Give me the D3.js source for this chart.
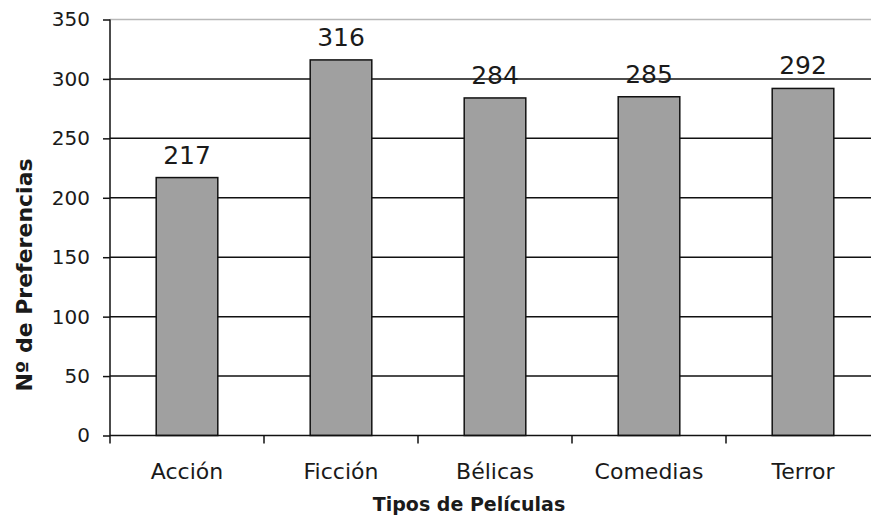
<!DOCTYPE html>
<html>
<head>
<meta charset="utf-8">
<script src="https://cdn.jsdelivr.net/npm/d3@7"></script>
<style>
  body { margin: 0; background: #fff; }
  text { font-family: "DejaVu Sans", Verdana, sans-serif; fill: #1a1a1a; }
</style>
</head>
<body>
<figure id="bar" style="margin:0"></figure>
<script>
const categories = ["Acción", "Ficción", "Bélicas", "Comedias", "Terror"];
const values = [217, 316, 284, 285, 292];
const yTicks = [0, 50, 100, 150, 200, 250, 300, 350];

const width = 871, height = 520;
const margin = { top: 19.5, left: 110 };
const plotW = 770;           // plot runs past the right edge, as in the original
const plotH = 416;

const svg = d3.select("figure#bar")
  .append("svg")
  .attr("width", width)
  .attr("height", height);

const g = svg.append("g")
  .attr("transform", "translate(" + margin.left + "," + margin.top + ")");

// scales
const x = d3.scaleBand()
  .domain(categories)
  .range([0, plotW])
  .paddingInner(0.6)
  .paddingOuter(0.3);

const y = d3.scaleLinear()
  .domain([0, 350])
  .range([plotH, 0]);

// gridlines
g.selectAll(".grid")
  .data(yTicks.filter(t => t > 0))
  .enter()
  .append("line")
  .attr("x1", 0)
  .attr("x2", plotW)
  .attr("y1", d => y(d))
  .attr("y2", d => y(d))
  .attr("stroke", d => d === 350 ? "#b8b8b8" : "#111")
  .attr("stroke-width", 1.5);

// bars
g.selectAll(".bar")
  .data(values)
  .enter()
  .append("rect")
  .attr("x", (d, i) => x(categories[i]))
  .attr("y", d => y(d))
  .attr("width", x.bandwidth())
  .attr("height", d => plotH - y(d))
  .attr("fill", "#a0a0a0")
  .attr("stroke", "#111")
  .attr("stroke-width", 1.5);

// value labels
g.selectAll(".val")
  .data(values)
  .enter()
  .append("text")
  .attr("x", (d, i) => x(categories[i]) + x.bandwidth() / 2)
  .attr("y", d => y(d) - 14)
  .attr("text-anchor", "middle")
  .style("font-size", "25px")
  .text(d => d);

// y axis
const yAxis = g.append("g")
  .call(d3.axisLeft(y).tickValues(yTicks).tickSize(7).tickPadding(13));
yAxis.select(".domain").attr("stroke", "#111").attr("stroke-width", 1.5)
  .attr("d", "M0,0V" + (plotH + 8));
yAxis.selectAll(".tick line").attr("stroke", "#111").attr("stroke-width", 1.5);
yAxis.selectAll(".tick text").style("font-size", "20px").attr("fill", "#1a1a1a");

// x axis: ticks sit between categories
const xAxisG = g.append("g")
  .attr("transform", "translate(0," + plotH + ")");
xAxisG.append("line")
  .attr("x1", 0).attr("x2", plotW)
  .attr("stroke", "#111").attr("stroke-width", 1.5);
const step = x.step();
xAxisG.selectAll(".xtick")
  .data(categories.slice(1))
  .enter()
  .append("line")
  .attr("x1", d => x(d) - (step - x.bandwidth()) / 2)
  .attr("x2", d => x(d) - (step - x.bandwidth()) / 2)
  .attr("y1", 0)
  .attr("y2", 8)
  .attr("stroke", "#111")
  .attr("stroke-width", 1.5);
xAxisG.selectAll(".xlabel")
  .data(categories)
  .enter()
  .append("text")
  .attr("x", d => x(d) + x.bandwidth() / 2)
  .attr("y", 43.5)
  .attr("text-anchor", "middle")
  .style("font-size", "22px")
  .text(d => d);

// axis titles
svg.append("text")
  .attr("x", 469)
  .attr("y", 511)
  .attr("text-anchor", "middle")
  .style("font-size", "19px")
  .style("font-weight", "bold")
  .text("Tipos de Películas");

svg.append("text")
  .attr("transform", "translate(32,275) rotate(-90)")
  .attr("text-anchor", "middle")
  .style("font-size", "22px")
  .style("font-weight", "bold")
  .text("Nº de Preferencias");
</script>
</body>
</html>
